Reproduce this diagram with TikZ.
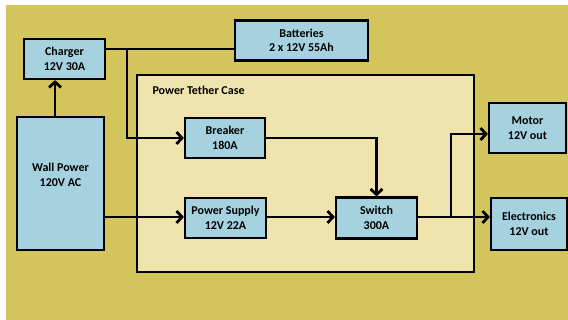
\documentclass[tikz,border=0pt]{standalone}
\usepackage{fontspec}
\setmainfont{Carlito}
\usetikzlibrary{arrows.meta}
\definecolor{bgolive}{RGB}{212,196,92}
\definecolor{casecream}{RGB}{240,228,174}
\definecolor{boxblue}{RGB}{166,210,224}

\begin{document}
\begin{tikzpicture}[
        x=1pt, y=-1pt,
        blk/.style={draw, line width=2.2pt, fill=boxblue, align=center,
          inner sep=0pt, font=\bfseries\fontsize{12}{14.5}\selectfont},
        wire/.style={line width=2.8pt},
        flow/.style={wire, -{Straight Barb[length=5.5pt,width=12pt]}}
      ]
      \useasboundingbox (0,0) rectangle (568,320);
      \fill[white] (0,0) rectangle (568,320);
      \fill[bgolive] (6,5) rectangle (568,320);
      \node (case) [draw, line width=2.2pt, fill=casecream, inner sep=0pt,
        minimum width=337pt, minimum height=197pt] at (305.5,173.5) {};
      \node (caselabel) [anchor=west, font=\bfseries\fontsize{12}{14.5}\selectfont]
        at (149,90) {Power Tether Case};
      \node (charger) [blk, minimum width=81pt, minimum height=40pt]
        at (64.5,59) {Charger\\12V 30A};
      \node (batteries) [blk, minimum width=133pt, minimum height=40pt]
        at (301.5,40.5) {Batteries\\2 x 12V 55Ah};
      \node (wall) [blk, minimum width=87pt, minimum height=133pt]
        at (60.5,183.5) {Wall Power\\120V AC\\[3pt]};
      \node (breaker) [blk, minimum width=80pt, minimum height=40pt]
        at (225,138) {Breaker\\180A};
      \node (psu) [blk, minimum width=81pt, minimum height=40pt]
        at (225.5,218) {Power Supply\\12V 22A};
      \node (switch) [blk, minimum width=81pt, minimum height=41pt]
        at (376.5,218) {Switch\\300A};
      \node (motor) [blk, minimum width=77pt, minimum height=50pt]
        at (527.5,128) {Motor\\12V out};
      \node (electronics) [blk, minimum width=76pt, minimum height=52pt]
        at (529,224) {Electronics\\12V out};
      \coordinate (tap) at (127,49);
      \coordinate (split) at (451,217);
      \draw[wire] (charger.east |- tap) -- (batteries.west |- tap);
      \draw[flow] (tap) |- (breaker.west);
      \draw[flow] (wall.north -| 55,0) -- (charger.south -| 55,0);
      \draw[flow] (wall.east |- split) -- (psu.west |- split);
      \draw[flow] (breaker.east) -| (switch.north);
      \draw[flow] (psu.east |- split) -- (switch.west |- split);
      \draw[flow] (switch.east |- split) -- (electronics.west |- split);
      \draw[flow] (split) |- ([yshift=-6pt]motor.west);
    \end{tikzpicture}
\end{document}
